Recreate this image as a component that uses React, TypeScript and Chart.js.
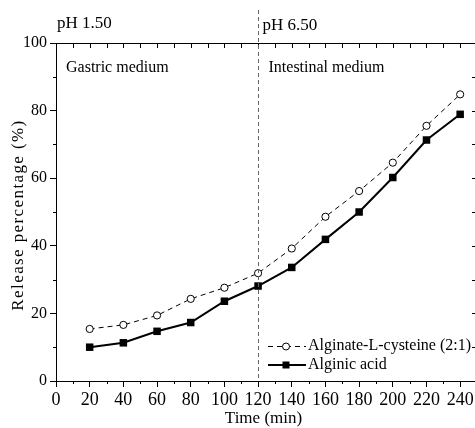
import React, { useEffect, useRef } from "react";
import { Chart, registerables } from "chart.js";

Chart.register(...registerables);

const times = [20, 40, 60, 80, 100, 120, 140, 160, 180, 200, 220, 240];
const cysteine = [15.4, 16.6, 19.4, 24.3, 27.6, 31.9, 39.2, 48.6, 56.2, 64.6, 75.5, 84.8];
const alginic = [10.0, 11.3, 14.7, 17.3, 23.6, 28.1, 33.6, 41.9, 50.0, 60.2, 71.3, 78.9];
const xTickValues = [0, 20, 40, 60, 80, 100, 120, 140, 160, 180, 200, 220, 240];
const yTickValues = [0, 20, 40, 60, 80, 100];
const seriesNames = ["Alginate-L-cysteine (2:1)", "Alginic acid"];
const phBoundary = 120;
const phLabels = ["pH 1.50", "pH 6.50"];
const mediumLabels = ["Gastric medium", "Intestinal medium"];
const xTitle = "Time (min)";
const yTitle = "Release percentage (%)";

const FONT = '"Liberation Serif", "Times New Roman", serif';

const decorPlugin = {
  id: "decor",
  afterDraw(chart: any) {
    const { ctx, chartArea, scales } = chart;
    const x = scales.x;
    const y = scales.y;
    const { left, right, top, bottom } = chartArea;
    ctx.save();
    ctx.strokeStyle = "#000";
    ctx.lineWidth = 1;
    ctx.setLineDash([]);
    const seg = (x1: number, y1: number, x2: number, y2: number) => {
      ctx.beginPath();
      ctx.moveTo(x1, y1);
      ctx.lineTo(x2, y2);
      ctx.stroke();
    };
    // top and right frame
    seg(left, Math.round(top) + 0.5, right + 1, Math.round(top) + 0.5);
    seg(Math.round(right) + 0.5, top, Math.round(right) + 0.5, bottom);
    for (let v = 0; v <= 250; v += 10) {
      const px = Math.round(x.getPixelForValue(v)) + 0.5;
      seg(px, top, px, top + 5);
      if (v % 20 !== 0) seg(px, bottom, px, bottom + 3);
    }
    for (let v = 0; v <= 100; v += 10) {
      const py = Math.round(y.getPixelForValue(v)) + 0.5;
      seg(right, py, right - 5, py);
      if (v % 20 !== 0) seg(left - 3, py, left, py);
    }
    // pH boundary dashed line
    const bx = Math.round(x.getPixelForValue(phBoundary)) + 0.5;
    ctx.strokeStyle = "#666";
    ctx.setLineDash([4, 3]);
    seg(bx, 10, bx, bottom);
    ctx.setLineDash([]);

    // texts
    ctx.fillStyle = "#000";
    ctx.textBaseline = "alphabetic";
    ctx.textAlign = "left";
    ctx.font = `17px ${FONT}`;
    ctx.fillText(phLabels[0], left + 1, 28);
    ctx.fillText(phLabels[1], bx + 4, 30);
    ctx.font = `16px ${FONT}`;
    ctx.fillText(mediumLabels[0], left + 10, 72);
    ctx.fillText(mediumLabels[1], bx + 10, 72);

    // axis titles
    ctx.textAlign = "center";
    ctx.textBaseline = "middle";
    ctx.font = `17px ${FONT}`;
    ctx.fillText(xTitle, (left + right) / 2 - 3, 419);
    ctx.save();
    ctx.translate(19, (top + bottom) / 2 + 3);
    ctx.rotate(-Math.PI / 2);
    ctx.font = `17px ${FONT}`;
    (ctx as any).letterSpacing = "1.4px";
    ctx.fillText(yTitle, 0, 0);
    (ctx as any).letterSpacing = "0px";
    ctx.restore();

    // legend
    const lx1 = 268, lx2 = 306, lmx = 286;
    const r1 = 346, r2 = 365;
    ctx.strokeStyle = "#000";
    ctx.lineWidth = 1;
    ctx.setLineDash([5, 4]);
    seg(lx1, r1 + 0.5, lx2, r1 + 0.5);
    ctx.setLineDash([]);
    ctx.beginPath();
    ctx.arc(lmx, r1 + 0.5, 3.5, 0, Math.PI * 2);
    ctx.fillStyle = "#fff";
    ctx.fill();
    ctx.stroke();
    ctx.lineWidth = 2;
    seg(lx1, r2, lx2, r2);
    ctx.fillStyle = "#000";
    ctx.fillRect(lmx - 3.5, r2 - 3.5, 7, 7);
    ctx.textAlign = "left";
    ctx.textBaseline = "middle";
    ctx.font = `16px ${FONT}`;
    ctx.fillText(seriesNames[0], 308, r1);
    ctx.fillText(seriesNames[1], 308, r2);
    ctx.restore();
  },
};

export default function App() {
  const ref = useRef<HTMLCanvasElement>(null);
  useEffect(() => {
    const canvas = ref.current!;
    const chart = new Chart(canvas, {
      type: "line",
      data: {
        datasets: [
          {
            label: seriesNames[0],
            data: times.map((t, i) => ({ x: t, y: cysteine[i] })),
            borderColor: "#000",
            borderWidth: 1,
            borderDash: [5, 4],
            pointStyle: "circle",
            pointRadius: 3.6,
            pointBackgroundColor: "#fff",
            pointBorderColor: "#000",
            pointBorderWidth: 1,
            tension: 0,
          },
          {
            label: seriesNames[1],
            data: times.map((t, i) => ({ x: t, y: alginic[i] })),
            borderColor: "#000",
            borderWidth: 2,
            pointStyle: "rect",
            pointRadius: 5.3,
            pointBackgroundColor: "#000",
            pointBorderColor: "#000",
            pointBorderWidth: 0,
            tension: 0,
          },
        ],
      },
      options: {
        responsive: false,
        animation: false,
        devicePixelRatio: 1,
        layout: { padding: { top: 43, right: 13, left: 0, bottom: 0 } },
        plugins: { legend: { display: false }, tooltip: { enabled: false } },
        scales: {
          x: {
            type: "linear",
            min: 0,
            max: 250,
            afterBuildTicks: (s: any) => {
              s.ticks = xTickValues.map((v) => ({ value: v }));
            },
            afterFit: (s: any) => {
              s.height = 47;
            },
            border: { display: true, color: "#000", width: 1 },
            grid: { drawOnChartArea: false, drawTicks: true, tickLength: 6, color: "#000" },
            ticks: {
              autoSkip: false,
              maxRotation: 0,
              padding: 2,
              color: "#000",
              font: { family: FONT, size: 18 },
              callback: (v: any) => String(v),
            },
          },
          y: {
            min: 0,
            max: 100,
            afterBuildTicks: (s: any) => {
              s.ticks = yTickValues.map((v) => ({ value: v }));
            },
            afterFit: (s: any) => {
              s.width = 56;
            },
            border: { display: true, color: "#000", width: 1 },
            grid: { drawOnChartArea: false, drawTicks: true, tickLength: 6, color: "#000" },
            ticks: {
              padding: 3,
              color: "#000",
              font: { family: FONT, size: 16 },
              callback: (v: any) => String(v),
            },
          },
        },
      },
      plugins: [decorPlugin],
    } as any);
    return () => chart.destroy();
  }, []);
  return (
    <div
      style={{
        position: "absolute",
        left: 0,
        top: 0,
        width: 475,
        height: 428,
        overflow: "hidden",
        background: "#fff",
      }}
    >
      <canvas ref={ref} width={490} height={428} style={{ display: "block" }} />
    </div>
  );
}
